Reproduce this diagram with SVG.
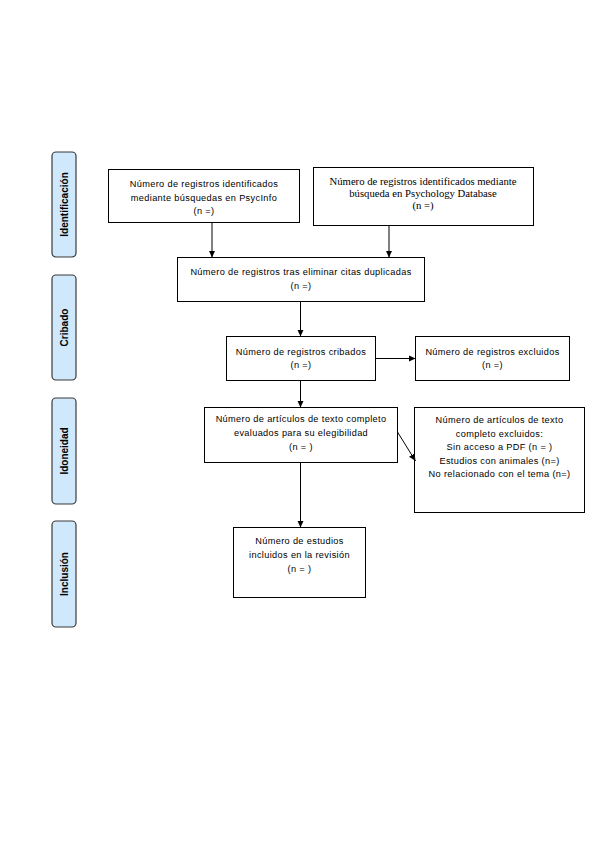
<svg xmlns="http://www.w3.org/2000/svg" width="599" height="848" viewBox="0 0 599 848">
<defs>
<marker id="ah" markerWidth="8" markerHeight="8" refX="7" refY="4" orient="auto" markerUnits="userSpaceOnUse">
<path d="M0,0.8 L7,4 L0,7.2 Z" fill="#000"/>
</marker>
<style>
.box{fill:#fff;stroke:#000;stroke-width:1}
.side{fill:#cfe8fb;stroke:#3a3a3a;stroke-width:1.2}
.t{font-family:"Liberation Sans",Arial,sans-serif;font-size:9.2px;letter-spacing:0.35px;fill:#000;text-anchor:middle}
.s{font-family:"Liberation Serif","Times New Roman",serif;font-size:10.7px;fill:#000;text-anchor:middle}
.lab{font-family:"Liberation Sans",Arial,sans-serif;font-size:10px;font-weight:bold;fill:#000;text-anchor:middle}
.c{stroke:#000;stroke-width:1;fill:none;marker-end:url(#ah)}
</style>
</defs>
<rect width="599" height="848" fill="#fff"/>

<g id="phase-identificacion">
<rect class="side" x="52" y="152" width="24" height="105" rx="4"/>
<text class="lab" transform="translate(67.5,204.5) rotate(-90)">Identificación</text>
</g>
<g id="phase-cribado">
<rect class="side" x="52" y="275" width="24" height="105" rx="4"/>
<text class="lab" transform="translate(67.5,327.5) rotate(-90)">Cribado</text>
</g>
<g id="phase-idoneidad">
<rect class="side" x="52" y="398" width="24" height="106" rx="4"/>
<text class="lab" transform="translate(67.5,451) rotate(-90)">Idoneidad</text>
</g>
<g id="phase-inclusion">
<rect class="side" x="52" y="521" width="24" height="106" rx="4"/>
<text class="lab" transform="translate(67.5,574) rotate(-90)">Inclusión</text>
</g>

<g id="n-psycinfo">
<rect class="box" x="108.5" y="169.5" width="191" height="53"/>
<text class="t" x="204" y="187">Número de registros identificados</text>
<text class="t" x="204" y="200.5">mediante búsquedas en PsycInfo</text>
<text class="t" x="204" y="214">(n =)</text>
</g>
<g id="n-psychdb">
<rect class="box" x="313.5" y="167.5" width="220" height="58"/>
<text class="s" x="423" y="185">Número de registros identificados mediante</text>
<text class="s" x="423" y="197">búsqueda en Psychology Database</text>
<text class="s" x="423" y="209">(n =)</text>
</g>
<g id="n-duplicados">
<rect class="box" x="177.5" y="257.5" width="247" height="44"/>
<text class="t" x="301" y="275">Número de registros tras eliminar citas duplicadas</text>
<text class="t" x="301" y="288.5">(n =)</text>
</g>
<g id="n-cribados">
<rect class="box" x="226.5" y="336.5" width="149" height="44"/>
<text class="t" x="301" y="354.5">Número de registros cribados</text>
<text class="t" x="301" y="368">(n =)</text>
</g>
<g id="n-excluidos">
<rect class="box" x="415.5" y="336.5" width="154" height="44"/>
<text class="t" x="492.5" y="354.5">Número de registros excluidos</text>
<text class="t" x="492.5" y="368">(n =)</text>
</g>
<g id="n-texto-completo">
<rect class="box" x="204.5" y="407.5" width="193" height="55"/>
<text class="t" x="301" y="422">Número de artículos de texto completo</text>
<text class="t" x="301" y="436">evaluados para su elegibilidad</text>
<text class="t" x="301" y="450">(n =  )</text>
</g>
<g id="n-texto-excluidos">
<rect class="box" x="414.5" y="407.5" width="170" height="105"/>
<text class="t" x="499.5" y="423">Número de artículos de texto</text>
<text class="t" x="499.5" y="436.5">completo excluidos:</text>
<text class="t" x="499.5" y="450">Sin acceso a PDF (n = )</text>
<text class="t" x="499.5" y="463.5">Estudios con animales (n=)</text>
<text class="t" x="499.5" y="477">No relacionado con el tema (n=)</text>
</g>
<g id="n-incluidos">
<rect class="box" x="233.5" y="527.5" width="132" height="70"/>
<text class="t" x="299.5" y="544">Número de estudios</text>
<text class="t" x="299.5" y="558">incluidos en la revisión</text>
<text class="t" x="299.5" y="572">(n =  )</text>
</g>

<g id="connectors">
<line class="c" x1="212" y1="222.5" x2="212" y2="257.5"/>
<line class="c" x1="389" y1="225.5" x2="389" y2="257.5"/>
<line class="c" x1="300.5" y1="301.5" x2="300.5" y2="336.5"/>
<line class="c" x1="375.5" y1="358.5" x2="415.5" y2="358.5"/>
<line class="c" x1="300.5" y1="380.5" x2="300.5" y2="407.5"/>
<line class="c" x1="397.5" y1="432" x2="415.5" y2="461"/>
<line class="c" x1="300.5" y1="462.5" x2="300.5" y2="527.5"/>
</g>
</svg>
